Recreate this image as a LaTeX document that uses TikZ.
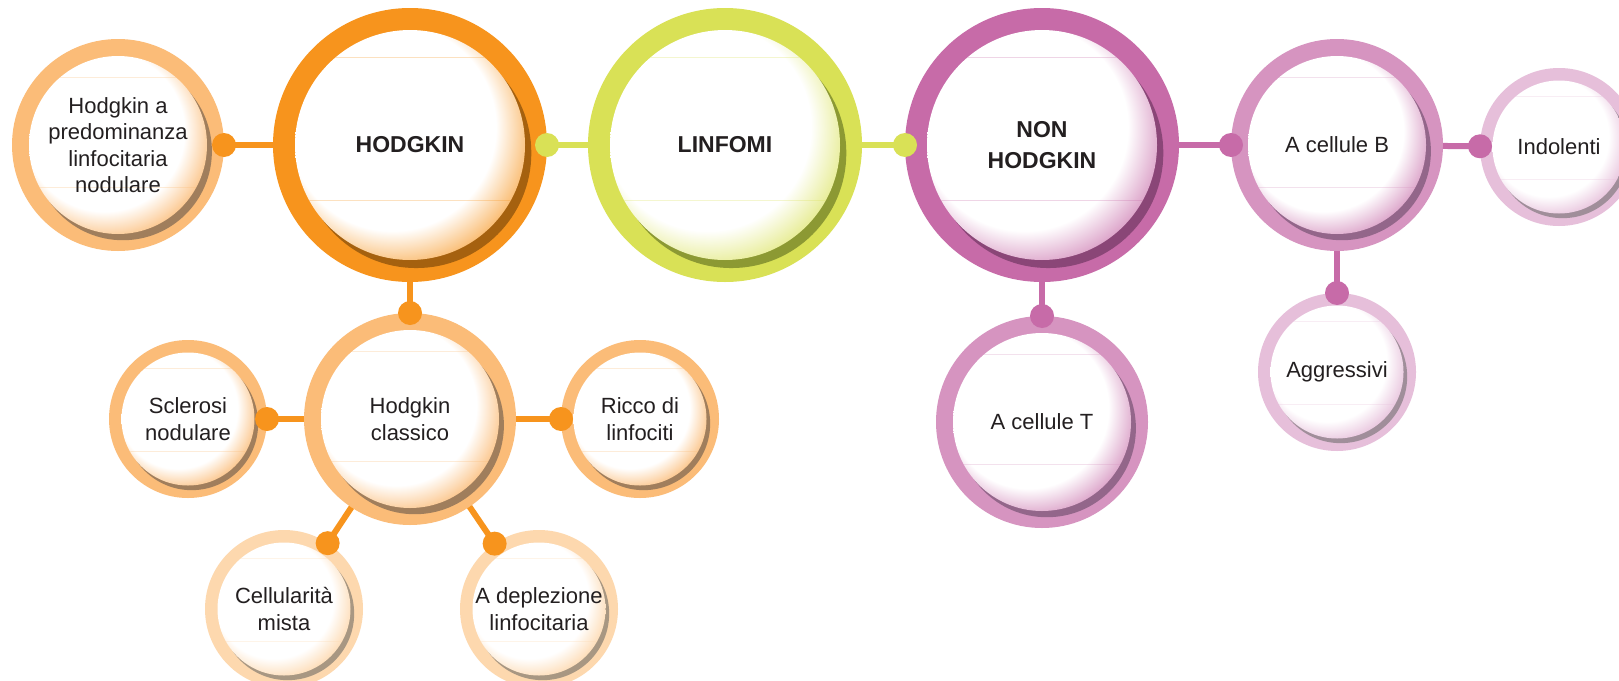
\documentclass[tikz,border=0pt]{standalone}
\usepackage{fontspec}
\setmainfont{Liberation Sans}
\usetikzlibrary{calc}

% palette
\definecolor{orangeA}{HTML}{F7941D}
\definecolor{orangeB}{HTML}{FBBC78}
\definecolor{orangeC}{HTML}{FDD8AE}
\definecolor{limeA}{HTML}{D9E156}
\definecolor{plumA}{HTML}{C76BA8}
\definecolor{plumB}{HTML}{D694C0}
\definecolor{plumC}{HTML}{E6BFDA}
\definecolor{shOrangeA}{HTML}{A5610F}
\definecolor{shOrangeB}{HTML}{A07E5C}
\definecolor{shOrangeC}{HTML}{A89782}
\definecolor{shLime}{HTML}{8C9933}
\definecolor{shPlumA}{HTML}{8A4677}
\definecolor{shPlumB}{HTML}{93668A}
\definecolor{shPlumC}{HTML}{A08E9A}
\definecolor{ink}{HTML}{231F20}
\colorlet{glowcol}{white}

% white disc whose lower-right rim fades into a tint
\pgfdeclareradialshading[glowcol]{rimglow}{\pgfpoint{-7bp}{7bp}}{%
  color(0bp)=(white); color(22.5bp)=(white); color(29bp)=(glowcol); color(50bp)=(glowcol)}

\tikzset{
  % #1 outer radius, #2 ring width, #3 ring colour, #4 shadow colour, #5 rim tint
  bubble/.style n args={5}{circle, inner sep=0pt, outer sep=0pt,
    minimum size=2*#1 pt, fill=#3, text=ink, align=center,
    path picture={
      \pgfmathsetmacro\ri{#1-#2}
      \pgfmathsetmacro\sdx{0.055*\ri}
      \pgfmathsetmacro\sdy{0.07*\ri}
      \fill[#4] ([shift={(\sdx pt,-\sdy pt)}]path picture bounding box.center)
        circle[radius=\ri pt];
      \colorlet{glowcol}{#5}
      \shade[shading=rimglow] (path picture bounding box.center) circle[radius=\ri pt];
      \begin{scope}
        \clip (path picture bounding box.center) circle[radius=\ri pt];
        \draw[#3, opacity=.28, line width=.8pt]
          ([shift={(-\ri pt, 0.76*\ri pt)}]path picture bounding box.center) -- ++(2*\ri pt,0pt)
          ([shift={(-\ri pt,-0.48*\ri pt)}]path picture bounding box.center) -- ++(2*\ri pt,0pt);
      \end{scope}
    }},
  bigA/.style={bubble={137}{22}{orangeA}{shOrangeA}{orangeA!60!white}},
  bigL/.style={bubble={137}{22}{limeA}{shLime}{limeA!60!white}},
  bigP/.style={bubble={137}{22}{plumA}{shPlumA}{plumA!60!white}},
  midO/.style={bubble={106}{17}{orangeB}{shOrangeB}{orangeB!80!white}},
  midP/.style={bubble={106}{17}{plumB}{shPlumB}{plumB!80!white}},
  smallO/.style={bubble={79}{12.5}{orangeB}{shOrangeB}{orangeB!80!white}},
  smallC/.style={bubble={79}{12.5}{orangeC}{shOrangeC}{orangeC!85!white}},
  smallP/.style={bubble={79}{12.5}{plumC}{shPlumC}{plumC!85!white}},
  head/.style={font=\fontsize{23}{31}\selectfont\bfseries},
  txt/.style={font=\fontsize{22}{26.5}\selectfont},
  conn/.style={line width=6pt},
  dot/.style={circle, inner sep=0pt, outer sep=0pt, minimum size=24pt},
}

\begin{document}
\begin{tikzpicture}[x=1pt,y=1pt]
  \fill[white] (0,-680) rectangle (1619,0);
  \useasboundingbox (0,-680) rectangle (1619,0);

  % main row
  \node[midO, txt]  (predom)     at (118,-145)  {Hodgkin a\\predominanza\\linfocitaria\\nodulare};
  \node[bigA, head] (hodgkin)    at (410,-145)  {HODGKIN};
  \node[bigL, head] (linfomi)    at (725,-145)  {LINFOMI};
  \node[bigP, head] (nonhodgkin) at (1042,-145) {NON\\HODGKIN};
  \node[midP, txt]  (cellB)      at (1337,-145) {A cellule B};
  \node[smallP, txt] (indolenti) at (1559,-147) {Indolenti};

  % non-Hodgkin branches
  \node[smallP, txt] (aggressivi) at (1337,-372) {Aggressivi};
  \node[midP, txt]   (cellT)      at (1042,-422) {A cellule T};

  % classic Hodgkin family
  \node[midO, txt]   (classico)    at (410,-419) {Hodgkin\\classico};
  \node[smallO, txt] (sclerosi)    at (188,-419) {Sclerosi\\nodulare};
  \node[smallO, txt] (ricco)       at (640,-419) {Ricco di\\linfociti};
  \node[smallC, txt] (cellularita) at (284,-609) {Cellularità\\mista};
  \node[smallC, txt] (deplezione)  at (539,-609) {A deplezione\\linfocitaria};

  % connectors, each ending in a dot on the child bubble
  \draw[conn, limeA] (linfomi) -- (hodgkin) node[pos=1, dot, fill=limeA] {};
  \draw[conn, limeA] (linfomi) -- (nonhodgkin) node[pos=1, dot, fill=limeA] {};

  \draw[conn, orangeA] (hodgkin) -- (predom) node[pos=1, dot, fill=orangeA] {};
  \draw[conn, orangeA] (hodgkin) -- (classico) node[pos=1, dot, fill=orangeA] {};
  \draw[conn, orangeA] (classico) -- (sclerosi) node[pos=1, dot, fill=orangeA] {};
  \draw[conn, orangeA] (classico) -- (ricco) node[pos=1, dot, fill=orangeA] {};
  \draw[conn, orangeA] (classico) -- (cellularita) node[pos=1, dot, fill=orangeA] {};
  \draw[conn, orangeA] (classico) -- (deplezione) node[pos=1, dot, fill=orangeA] {};

  \draw[conn, plumA] (nonhodgkin) -- (cellB) node[pos=1, dot, fill=plumA] {};
  \draw[conn, plumA] (nonhodgkin) -- (cellT) node[pos=1, dot, fill=plumA] {};
  \draw[conn, plumA] (cellB) -- (indolenti) node[pos=1, dot, fill=plumA] {};
  \draw[conn, plumA] (cellB) -- (aggressivi) node[pos=1, dot, fill=plumA] {};
\end{tikzpicture}
\end{document}
